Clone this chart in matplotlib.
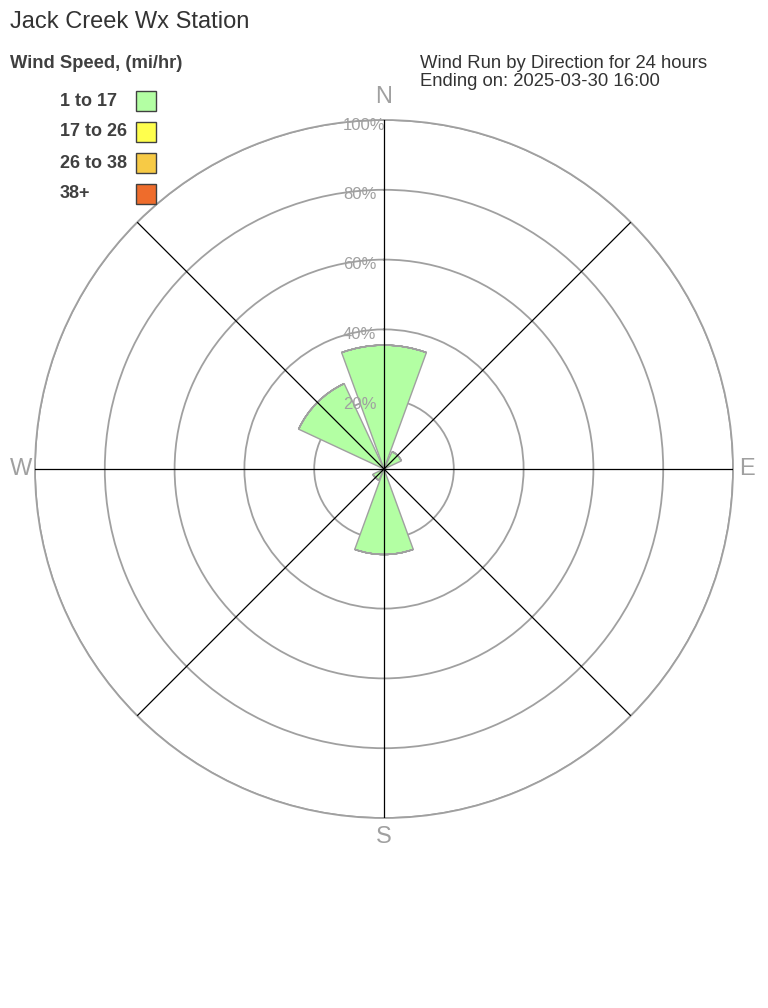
import numpy as np
import matplotlib
matplotlib.use("Agg")
import matplotlib.pyplot as plt
from matplotlib.patches import Rectangle

plt.rcParams['font.family'] = ['Liberation Sans', 'DejaVu Sans']

# --- data (percent of wind run by direction, per speed bin) ---
directions = ["N", "NE", "E", "SE", "S", "SW", "W", "NW"]
dir_angles = [0, 45, 90, 135, 180, 225, 270, 315]
speed_bins = ["1 to 17", "17 to 26", "26 to 38", "38+"]
bin_colors = ["#b3ffa3", "#ffff4d", "#f7ca45", "#ee6c2c"]
run_1_17 = [35.5, 5.5, 0, 0, 24.5, 3.5, 0, 27]
run_17_26 = [0, 0, 0, 0, 0, 0, 0, 0]
run_26_38 = [0, 0, 0, 0, 0, 0, 0, 0]
run_38p = [0, 0, 0, 0, 0, 0, 0, 0]
ring_ticks = [20, 40, 60, 80, 100]
compass = ["N", "E", "S", "W"]

W, H = 768, 1008
fig = plt.figure(figsize=(W / 100, H / 100), dpi=100)

# polar axes: centre at (384, 469) px, radius 349 px
cx, cy, R = 384, 469, 349
ax = fig.add_axes([(cx - R) / W, (H - cy - R) / H, 2 * R / W, 2 * R / H],
                  projection="polar")
ax.set_theta_zero_location("N")
ax.set_theta_direction(-1)
ax.set_ylim(0, 100)
ax.set_yticks(ring_ticks)
ax.set_yticklabels([])
ax.set_xticks([])
ax.grid(False)
ax.yaxis.grid(True, color="#a0a0a0", lw=1.3)
ax.set_axisbelow(True)
ax.spines["polar"].set_color("#a0a0a0")
ax.spines["polar"].set_linewidth(1.3)
ax.patch.set_alpha(0)

theta = np.radians(dir_angles)
width = np.radians(40)
bottom = np.zeros(len(directions))
for vals, col in zip([run_1_17, run_17_26, run_26_38, run_38p], bin_colors):
    vals = np.array(vals, dtype=float)
    ax.bar(theta, vals, width=width, bottom=bottom, color=col,
           edgecolor="#a0a0a0", linewidth=1, zorder=2)
    bottom += vals

# black direction spokes
for a in dir_angles:
    ax.plot([np.radians(a), np.radians(a)], [0, 100], color="black", lw=0.9, zorder=3)

# ring labels
for r in ring_ticks:
    ax.annotate(f"{r}%", xy=(0, r), xytext=(-41, -5), textcoords="offset pixels",
                ha="left", va="center", fontsize=12, color="#a0a0a0", zorder=4)

# compass labels
for lab, a, rr in zip(compass, [0, 90, 180, 270], [106.5, 104, 105.5, 104]):
    ax.text(np.radians(a), rr, lab, ha="center", va="center",
            fontsize=17, color="#a0a0a0", clip_on=False)

# titles
fig.text(10 / W, 1 - 22 / H, "Jack Creek Wx Station", fontsize=17, color="#333333",
         ha="left", va="center")
fig.text(10 / W, 1 - 64 / H, "Wind Speed, (mi/hr)", fontsize=13.2, fontweight="bold",
         color="#404040", ha="left", va="center")
fig.text(420 / W, 1 - 63 / H, "Wind Run by Direction for 24 hours", fontsize=13.3,
         color="#333333", ha="left", va="center")
fig.text(420 / W, 1 - 82 / H, "Ending on: 2025-03-30 16:00", fontsize=13.3,
         color="#333333", ha="left", va="center")

# legend
for i, (lab, col) in enumerate(zip(speed_bins, bin_colors)):
    y = 101 + i * 31
    fig.text(60 / W, 1 - y / H, lab, fontsize=13, fontweight="bold", color="#404040",
             ha="left", va="center")
    fig.patches.append(Rectangle((136 / W, 1 - (y + 10) / H), 20 / W, 20 / H,
                                 transform=fig.transFigure, facecolor=col,
                                 edgecolor="#404040", lw=1))

fig.savefig("out.png", dpi=100)
